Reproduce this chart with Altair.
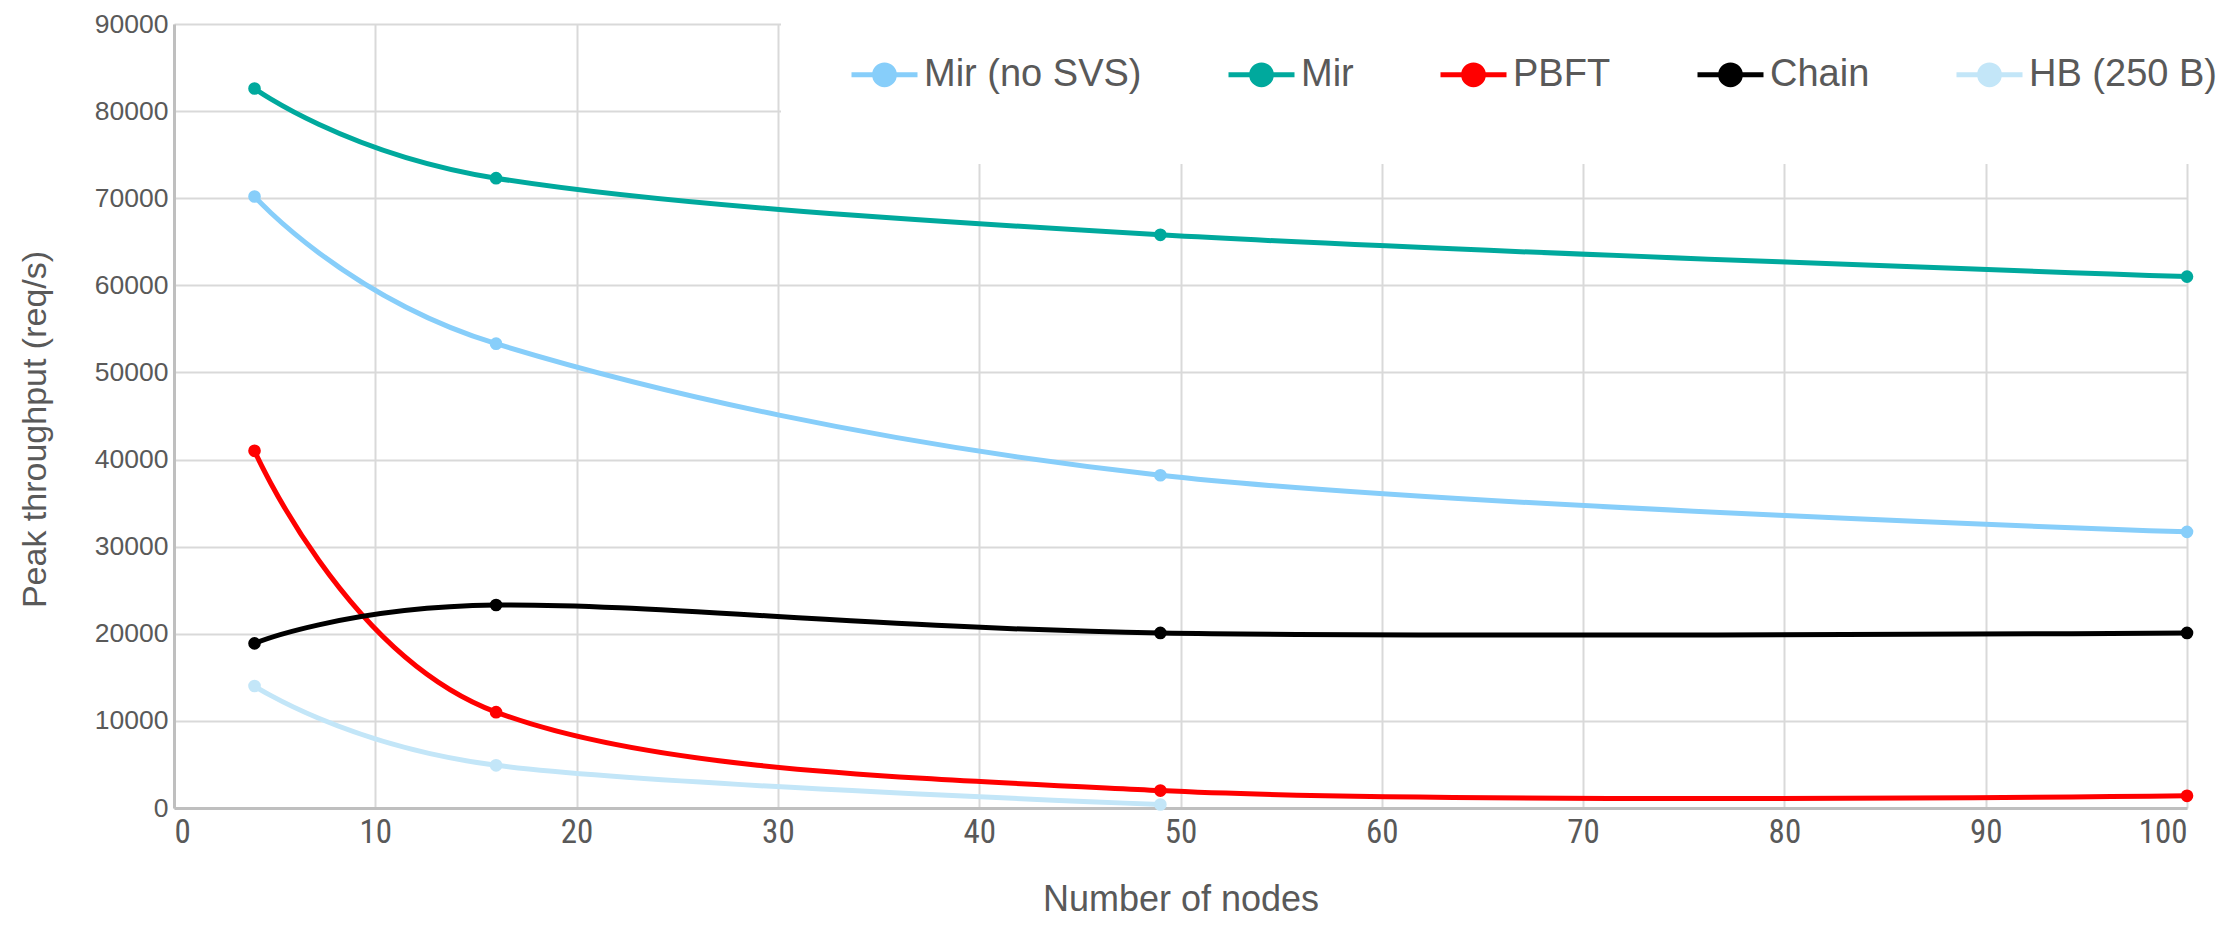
import altair as alt
import pandas as pd

# ---- data ----
series_names = ["Mir (no SVS)", "Mir", "PBFT", "Chain", "HB (250 B)"]
series_colors = ["#87CEFA", "#00A99D", "#FF0000", "#000000", "#C3E6F8"]

nodes = [4, 16, 49, 100]
mir_nosvs = [70200, 53300, 38200, 31700]
mir = [82600, 72300, 65800, 61000]
pbft = [41000, 11000, 2000, 1400]
chain = [18900, 23300, 20100, 20100]
hb_nodes = [4, 16, 49]
hb = [14000, 4900, 400]

x_ticks = [0, 10, 20, 30, 40, 50, 60, 70, 80, 90, 100]
y_ticks = [0, 10000, 20000, 30000, 40000, 50000, 60000, 70000, 80000, 90000]

rows = []
for name, xs, ys in [
    ("Mir (no SVS)", nodes, mir_nosvs),
    ("Mir", nodes, mir),
    ("PBFT", nodes, pbft),
    ("Chain", nodes, chain),
    ("HB (250 B)", hb_nodes, hb),
]:
    for x, y in zip(xs, ys):
        rows.append({"series": name, "nodes": x, "tput": y})
df = pd.DataFrame(rows)

GRAY = "#595959"
legend_symbol = (
    "M-1,0L1,0"
    "M-0.30,0A0.30,0.30,0,1,0,0.30,0A0.30,0.30,0,1,0,-0.30,0"
    "M-0.20,0A0.20,0.20,0,1,0,0.20,0A0.20,0.20,0,1,0,-0.20,0"
    "M-0.10,0A0.10,0.10,0,1,0,0.10,0A0.10,0.10,0,1,0,-0.10,0"
)

color = alt.Color(
    "series:N",
    scale=alt.Scale(domain=series_names, range=series_colors),
    sort=series_names,
    legend=alt.Legend(
        title=None,
        orient="none",
        direction="horizontal",
        columns=5,
        legendX=607,
        legendY=-53,
        padding=68,
        fillColor="white",
        strokeColor="white",
        symbolType=legend_symbol,
        symbolSize=4356,
        symbolStrokeWidth=5,
        labelFont="Liberation Sans",
        labelFontSize=38,
        labelColor=GRAY,
        labelOffset=4,
        columnPadding=76,
        labelLimit=400,
    ),
)

x_enc = alt.X(
    "nodes:Q",
    scale=alt.Scale(domain=[0, 100], nice=False, zero=True),
    axis=alt.Axis(
        title="Number of nodes",
        values=x_ticks,
        format="d",
        titleFont="Liberation Sans",
        titleFontSize=36,
        titleFontWeight="normal",
        titleColor=GRAY,
        titlePadding=33,
        labelFont="Liberation Sans Narrow, Arial Narrow, Roboto Condensed, sans-serif",
        labelFontSize=33,
        labelColor=GRAY,
        labelPadding=8,
        ticks=False,
        domainColor="#BFBFBF",
        domainWidth=3,
        gridColor="#D9D9D9",
        gridWidth=2,
    ),
)
y_enc = alt.Y(
    "tput:Q",
    scale=alt.Scale(domain=[0, 90000], nice=False),
    axis=alt.Axis(
        title="Peak throughput (req/s)",
        values=y_ticks,
        format="d",
        titleFont="Liberation Sans",
        titleFontSize=34,
        titleFontWeight="normal",
        titleColor=GRAY,
        titlePadding=42,
        titleY=405,
        labelFont="Liberation Sans",
        labelFontSize=26.5,
        labelColor=GRAY,
        labelPadding=6,
        ticks=False,
        domainColor="#BFBFBF",
        domainWidth=3,
        gridColor="#D9D9D9",
        gridWidth=2,
    ),
)

lines = alt.Chart(df).mark_line(
    interpolate="cardinal", strokeWidth=5, clip=False
).encode(x=x_enc, y=y_enc, color=color, detail="series:N")

points = alt.Chart(df).mark_point(
    filled=True, size=160, opacity=1, clip=False
).encode(x="nodes:Q", y="tput:Q", color=alt.Color("series:N", sort=series_names))

chart = (
    alt.layer(lines, points)
    .properties(
        width=2013,
        height=784,
        autosize=alt.AutoSizeParams(type="none"),
        padding={"left": 166, "top": 16, "right": 39, "bottom": 110},
    )
    .configure_view(stroke=None)
)

chart.save("out.html", embed_options={"renderer": "svg", "actions": False})
